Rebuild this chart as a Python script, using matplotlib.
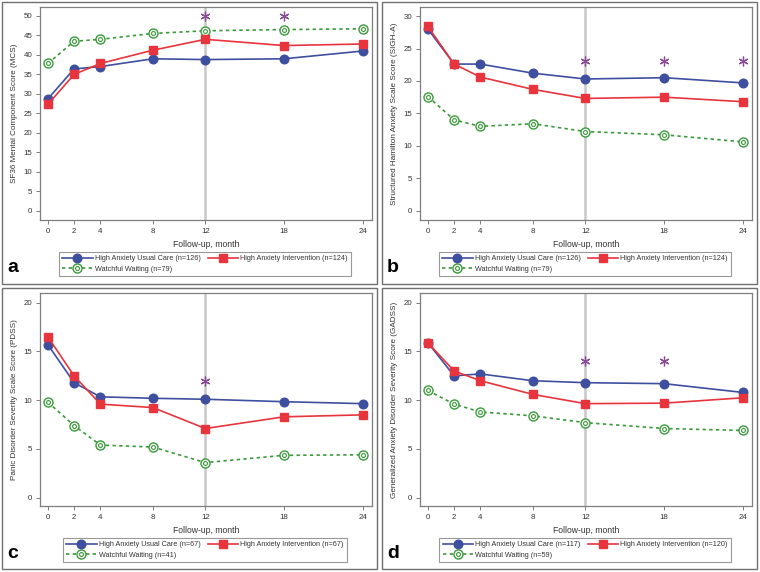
import matplotlib
matplotlib.use("Agg")
import matplotlib.pyplot as plt
from matplotlib.patches import Rectangle
from matplotlib.legend_handler import HandlerTuple

plt.rcParams['font.family'] = ['Liberation Sans Narrow', 'Liberation Sans', 'DejaVu Sans']

months = [0, 2, 4, 8, 12, 18, 24]

# Panel a: SF36 MCS
a_uc = [28.7, 36.4, 37.0, 39.0, 38.8, 39.0, 41.0]
a_int = [27.3, 35.0, 37.8, 41.2, 44.0, 42.4, 42.8]
a_ww = [37.8, 43.5, 44.0, 45.5, 46.2, 46.5, 46.7]
a_sig_x = [12, 18]
a_sig_y = [50, 50]

# Panel b: SIGH-A
b_uc = [28.0, 22.6, 22.6, 21.2, 20.3, 20.5, 19.7]
b_int = [28.4, 22.6, 20.6, 18.7, 17.3, 17.5, 16.8]
b_ww = [17.6, 14.0, 13.0, 13.4, 12.2, 11.7, 10.6]
b_sig_x = [12, 18, 24]
b_sig_y = [23, 23, 23]

# Panel c: PDSS
c_uc = [15.7, 11.8, 10.35, 10.2, 10.1, 9.85, 9.65]
c_int = [16.5, 12.5, 9.6, 9.25, 7.1, 8.3, 8.5]
c_ww = [9.8, 7.4, 5.4, 5.2, 3.6, 4.35, 4.4]
c_sig_x = [12]
c_sig_y = [12]

# Panel d: GADSS
d_uc = [15.9, 12.5, 12.7, 12.0, 11.8, 11.7, 10.8]
d_int = [15.9, 13.0, 12.0, 10.6, 9.65, 9.7, 10.25]
d_ww = [11.0, 9.6, 8.8, 8.4, 7.7, 7.1, 6.9]
d_sig_x = [12, 18]
d_sig_y = [14, 14]

panels = [
    dict(letter="a", ylabel="SF36 Mental Component Score (MCS)", uc=a_uc, it=a_int, ww=a_ww,
         sx=a_sig_x, sy=a_sig_y, yticks=list(range(0, 51, 5)), ylim=(-2.4, 52.3),
         n=("126", "124", "79")),
    dict(letter="b", ylabel="Structured Hamilton Anxiety Scale Score (SIGH-A)", uc=b_uc, it=b_int, ww=b_ww,
         sx=b_sig_x, sy=b_sig_y, yticks=list(range(0, 31, 5)), ylim=(-1.44, 31.4),
         n=("126", "124", "79")),
    dict(letter="c", ylabel="Panic Disorder Severity Scale Score (PDSS)", uc=c_uc, it=c_int, ww=c_ww,
         sx=c_sig_x, sy=c_sig_y, yticks=list(range(0, 21, 5)), ylim=(-0.85, 21.0),
         n=("67", "67", "41")),
    dict(letter="d", ylabel="Generalized Anxiety Disorder Severity Score (GADSS)", uc=d_uc, it=d_int, ww=d_ww,
         sx=d_sig_x, sy=d_sig_y, yticks=list(range(0, 21, 5)), ylim=(-0.85, 21.0),
         n=("117", "120", "59")),
]

W, H = 760, 572
fig = plt.figure(figsize=(W / 100, H / 100), dpi=100)
fig.patch.set_facecolor("white")

BLUE = "#3f4fa0"
RED = "#e8343c"
GREEN = "#3a9a3a"
PURPLE = "#8a4a96"
SPINE = "#7f7f7f"
TXT = "#333333"
FS_LEG = 5.2
FS_TICK = 5.7
FS_LAB = 5.9

def fx(px):
    return px / W

def fy(py):
    return 1 - py / H

# panel frames (x0, y0, x1, y1) in px
frames = [(2, 2, 377, 284), (382, 2, 757, 284), (2, 288, 377, 569), (382, 288, 757, 569)]
for (x0, y0, x1, y1) in frames:
    fig.patches.append(Rectangle((fx(x0), fy(y1)), fx(x1 - x0), (y1 - y0) / H,
                                 transform=fig.transFigure, fill=False,
                                 edgecolor="#707070", linewidth=1.0))

for i, p in enumerate(panels):
    col = i % 2
    row = i // 2
    ox = 380 * col
    oy = 286 * row
    ax_l, ax_r = 40 + ox, 372 + ox
    ax_t, ax_b = 7 + oy, 220 + oy
    ax = fig.add_axes([fx(ax_l), fy(ax_b), fx(ax_r - ax_l), (ax_b - ax_t) / H])
    ax.set_xlim(-0.6, 24.7)
    ax.set_ylim(*p["ylim"])
    ax.set_xticks(months)
    ax.set_yticks(p["yticks"])
    ax.tick_params(labelsize=FS_TICK, colors=TXT, length=3, width=0.7, color=SPINE, pad=2.5)
    for s in ax.spines.values():
        s.set_color(SPINE)
        s.set_linewidth(0.9)
    ax.axvline(12, color="#c8c8c8", linewidth=1.8, zorder=1)

    l_uc, = ax.plot(months, p["uc"], color=BLUE, lw=1.2, marker="o", ms=6.2,
                    mfc=BLUE, mec=BLUE, zorder=3)
    l_it, = ax.plot(months, p["it"], color=RED, lw=1.2, marker="s", ms=6.2,
                    mfc=RED, mec=RED, zorder=4)
    l_ww, = ax.plot(months, p["ww"], color=GREEN, lw=1.2, ls=(0, (2, 2)), marker="o", ms=6.5,
                    mfc="white", mec=GREEN, mew=1.0, zorder=3)
    l_ww2, = ax.plot(months, p["ww"], ls="none", marker="o", ms=2.8,
                     mfc="none", mec=GREEN, mew=0.8, zorder=5)
    ax.plot(p["sx"], p["sy"], ls="none", marker=(6, 2, 0), ms=7, mec=PURPLE,
            mew=0.9, color=PURPLE, zorder=5)

    ax.set_ylabel(p["ylabel"], fontsize=FS_LAB, color=TXT, labelpad=4)
    ax.set_xlabel("Follow-up, month", fontsize=FS_LAB + 0.3, color=TXT, labelpad=4)

    # legend
    h_ww = (l_ww, l_ww2)
    lab_uc = "High Anxiety Usual Care (n=%s)" % p["n"][0]
    lab_it = "High Anxiety Intervention (n=%s)" % p["n"][1]
    lab_ww = "Watchful Waiting (n=%s)" % p["n"][2]
    leg = fig.legend([l_uc, h_ww, l_it], [lab_uc, lab_ww, lab_it], ncol=2,
                     loc="center", bbox_to_anchor=(fx(205 + ox), fy(264 + oy)),
                     fontsize=FS_LEG, frameon=True, fancybox=False, edgecolor="#808080",
                     handlelength=4.2, handletextpad=0.3, columnspacing=1.0,
                     borderpad=0.5, labelspacing=0.5,
                     handler_map={tuple: HandlerTuple(ndivide=1, pad=0)})
    leg.get_frame().set_linewidth(0.8)
    for t in leg.get_texts():
        t.set_color(TXT)

    fig.text(fx(7 + ox), fy(268 + oy), p["letter"], fontsize=14, fontweight="bold",
             ha="left", va="center", color="black", family="Liberation Sans")

fig.savefig("out.png", dpi=100)
